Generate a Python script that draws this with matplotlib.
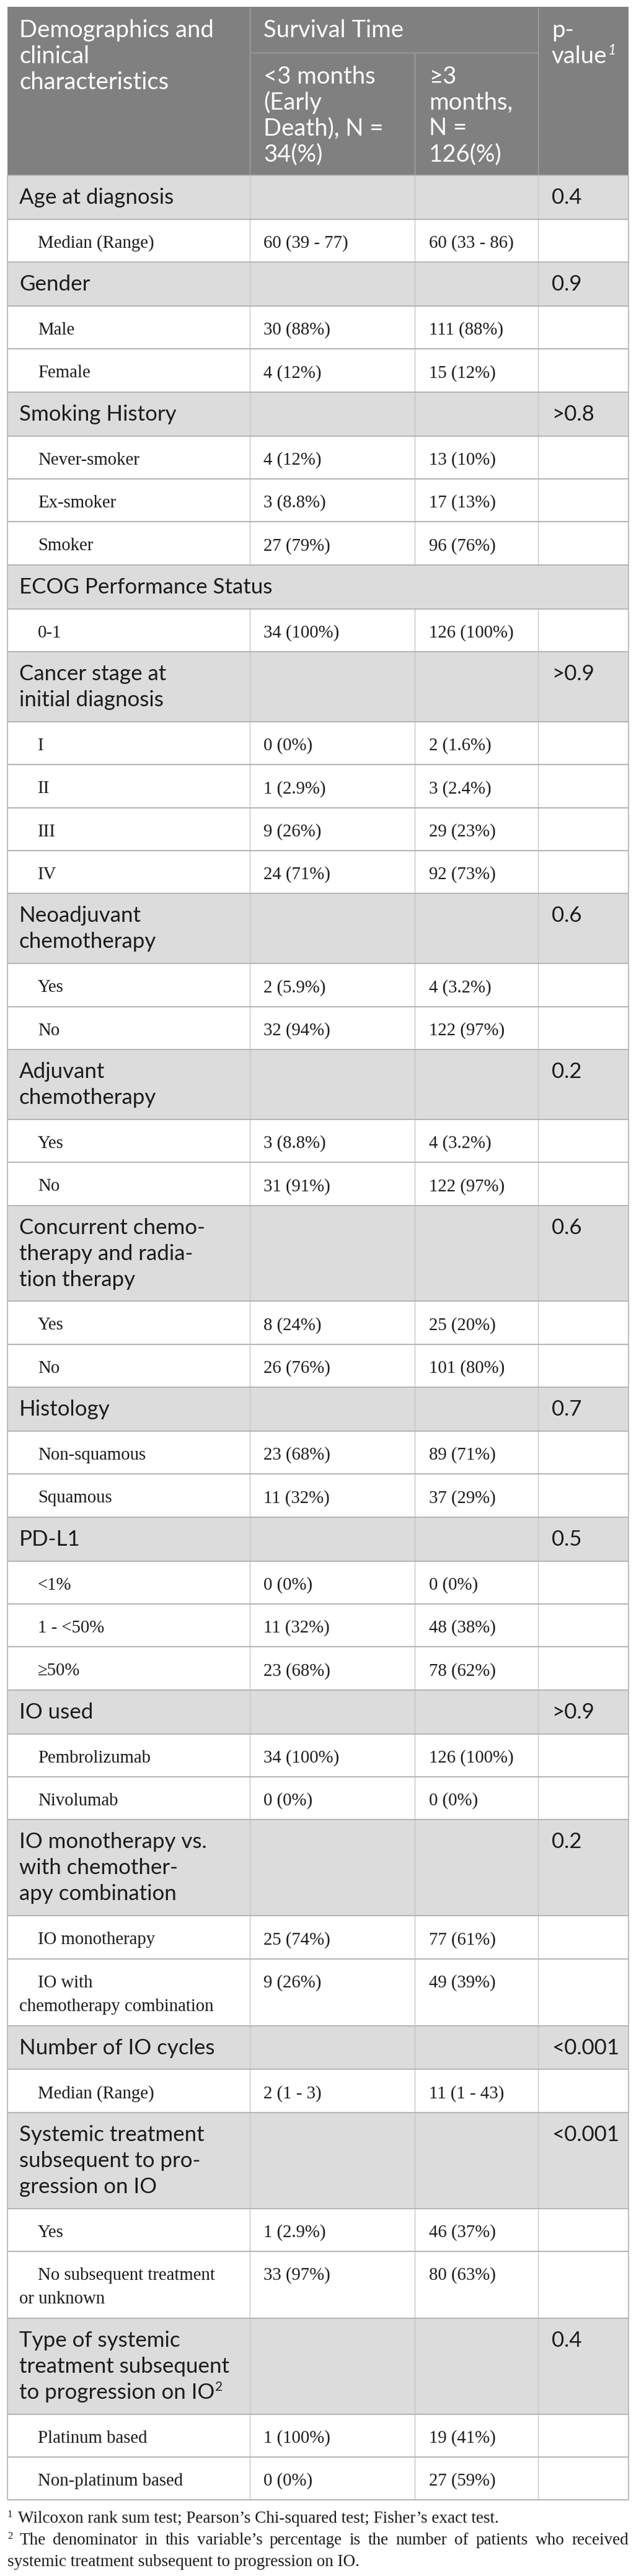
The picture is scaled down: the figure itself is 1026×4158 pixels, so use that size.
import matplotlib
matplotlib.use("Agg")
import matplotlib.pyplot as plt
from matplotlib.patches import Rectangle

# ---------------- data ----------------
header_col1 = ["Demographics and", "clinical", "characteristics"]
header_group = "Survival Time"
header_col2 = ["<3 months", "(Early", "Death), N =", "34(%)"]
header_col3 = ["≥3", "months,", "N =", "126(%)"]
header_p = ["p-", "value"]
header_p_mark = "1"

section_labels = [
    "Age at diagnosis",
    "Gender",
    "Smoking History",
    "ECOG Performance Status",
    "Cancer stage at\ninitial diagnosis",
    "Neoadjuvant\nchemotherapy",
    "Adjuvant\nchemotherapy",
    "Concurrent chemo-\ntherapy and radia-\ntion therapy",
    "Histology",
    "PD-L1",
    "IO used",
    "IO monotherapy vs.\nwith chemother-\napy combination",
    "Number of IO cycles",
    "Systemic treatment\nsubsequent to pro-\ngression on IO",
    "Type of systemic\ntreatment subsequent\nto progression on IO",
]
section_marks = ["", "", "", "", "", "", "", "", "", "", "", "", "", "", "2"]
p_values = ["0.4", "0.9", ">0.8", None, ">0.9", "0.6", "0.2", "0.6", "0.7",
            "0.5", ">0.9", "0.2", "<0.001", "<0.001", "0.4"]

sub_labels = [
    ["Median (Range)"],
    ["Male", "Female"],
    ["Never-smoker", "Ex-smoker", "Smoker"],
    ["0-1"],
    ["I", "II", "III", "IV"],
    ["Yes", "No"],
    ["Yes", "No"],
    ["Yes", "No"],
    ["Non-squamous", "Squamous"],
    ["<1%", "1 - <50%", "≥50%"],
    ["Pembrolizumab", "Nivolumab"],
    ["IO monotherapy", "IO with\nchemotherapy combination"],
    ["Median (Range)"],
    ["Yes", "No subsequent treatment\nor unknown"],
    ["Platinum based", "Non-platinum based"],
]
early_death = [
    ["60 (39 - 77)"],
    ["30 (88%)", "4 (12%)"],
    ["4 (12%)", "3 (8.8%)", "27 (79%)"],
    ["34 (100%)"],
    ["0 (0%)", "1 (2.9%)", "9 (26%)", "24 (71%)"],
    ["2 (5.9%)", "32 (94%)"],
    ["3 (8.8%)", "31 (91%)"],
    ["8 (24%)", "26 (76%)"],
    ["23 (68%)", "11 (32%)"],
    ["0 (0%)", "11 (32%)", "23 (68%)"],
    ["34 (100%)", "0 (0%)"],
    ["25 (74%)", "9 (26%)"],
    ["2 (1 - 3)"],
    ["1 (2.9%)", "33 (97%)"],
    ["1 (100%)", "0 (0%)"],
]
survivors = [
    ["60 (33 - 86)"],
    ["111 (88%)", "15 (12%)"],
    ["13 (10%)", "17 (13%)", "96 (76%)"],
    ["126 (100%)"],
    ["2 (1.6%)", "3 (2.4%)", "29 (23%)", "92 (73%)"],
    ["4 (3.2%)", "122 (97%)"],
    ["4 (3.2%)", "122 (97%)"],
    ["25 (20%)", "101 (80%)"],
    ["89 (71%)", "37 (29%)"],
    ["0 (0%)", "48 (38%)", "78 (62%)"],
    ["126 (100%)", "0 (0%)"],
    ["77 (61%)", "49 (39%)"],
    ["11 (1 - 43)"],
    ["46 (37%)", "80 (63%)"],
    ["19 (41%)", "27 (59%)"],
]
footnote_marks = ["1", "2"]
footnote1 = "Wilcoxon rank sum test; Pearson’s Chi-squared test; Fisher’s exact test."
footnote2_lines = [
    "The denominator in this variable’s percentage is the number of patients who received",
    "systemic treatment subsequent to progression on IO.",
]

# ---------------- layout / style ----------------
W, H, DPI = 1026, 4158, 100
SANS = ["Lato", "DejaVu Sans"]
SERIF = ["Liberation Serif", "DejaVu Serif"]
HEAD_BG = "#808080"
HEAD_LINE = "#a3a3a3"
SEC_BG = "#dcdcdc"
GRID = "#b4b4b4"
VGRID = "#c6c6c6"
TXT = "#1c1c1c"

X0, X1 = 12, 1014
COLS = [403, 669, 868]
TX = [31, 425, 692, 890]
SUB_INDENT = 61
TOP, SUBHEAD, HEAD_END = 11, 85, 283

fig = plt.figure(figsize=(W / DPI, H / DPI), dpi=DPI)
ax = fig.add_axes([0, 0, 1, 1])
ax.set_xlim(0, W)
ax.set_ylim(H, 0)
ax.axis("off")
renderer = fig.canvas.get_renderer()


def width_px(s, family, size, **kw):
    t = ax.text(0, 0, s, fontfamily=family, fontsize=size, **kw)
    w = t.get_window_extent(renderer).width
    t.remove()
    return w


def fit(s, family, target, **kw):
    return 20.0 * target / width_px(s, family, 20.0, **kw)


FS_SANS = fit("Age at diagnosis", SANS, 249)
FS_HEAD = fit("Survival Time", SANS, 227)
FS_SERIF = fit("Median (Range)", SERIF, 188)
FS_FOOT = fit(footnote1, SERIF, 777)


def txt(x, y, s, family, size, color=TXT, **kw):
    return ax.text(x, y, s, fontfamily=family, fontsize=size, color=color,
                   ha="left", va="baseline", **kw)


def hline(y, xa, xb, color, lw):
    ax.plot([xa, xb], [y, y], color=color, lw=lw, solid_capstyle="butt")


def vline(x, ya, yb, color, lw):
    ax.plot([x, x], [ya, yb], color=color, lw=lw, solid_capstyle="butt")


# ---------------- header ----------------
ax.add_patch(Rectangle((X0, TOP), X1 - X0, HEAD_END - TOP, color=HEAD_BG, lw=0))
hline(SUBHEAD, COLS[0], COLS[2], HEAD_LINE, 1.0)
vline(COLS[0], TOP, HEAD_END, HEAD_LINE, 1.0)
vline(COLS[1], SUBHEAD, HEAD_END, HEAD_LINE, 1.0)
vline(COLS[2], TOP, HEAD_END, HEAD_LINE, 1.0)
LH = 42
for i, s in enumerate(header_col1):
    txt(TX[0], 60 + i * LH, s, SANS, FS_HEAD, "white")
txt(TX[1], 60, header_group, SANS, FS_HEAD, "white")
for i, s in enumerate(header_col2):
    txt(TX[1], 135 + i * 41.7, s, SANS, FS_HEAD, "white")
for i, s in enumerate(header_col3):
    txt(TX[2], 135 + i * 41.7, s, SANS, FS_HEAD, "white")
for i, s in enumerate(header_p):
    txt(TX[3], 60 + i * LH, s, SANS, FS_HEAD, "white")
wv = width_px(header_p[-1], SANS, FS_HEAD)
txt(TX[3] + wv + 1, 60 + LH - 14, header_p_mark, SANS, FS_HEAD * 0.6, "white",
    style="italic")

# ---------------- body ----------------
SEC_H, SEC_LH = 70.8, 42
SUB_H, SUB_LH = 69.4, 38.5
y = HEAD_END
for k, lab in enumerate(section_labels):
    lines = lab.split("\n")
    h = SEC_H + SEC_LH * (len(lines) - 1)
    ax.add_patch(Rectangle((X0, y), X1 - X0, h, color=SEC_BG, lw=0))
    for i, s in enumerate(lines):
        t = txt(TX[0], y + 46 + i * SEC_LH, s, SANS, FS_SANS)
    if section_marks[k]:
        wl = width_px(lines[-1], SANS, FS_SANS)
        txt(TX[0] + wl + 1, y + 46 + (len(lines) - 1) * SEC_LH - 13,
            section_marks[k], SANS, FS_SANS * 0.6)
    if p_values[k] is not None:
        txt(TX[3], y + 46, p_values[k], SANS, FS_SANS)
        for c in COLS:
            vline(c, y, y + h, VGRID, 1.0)
    hline(y, X0, X1, GRID, 1.4)
    y += h
    for j, sl in enumerate(sub_labels[k]):
        slines = sl.split("\n")
        h = SUB_H + SUB_LH * (len(slines) - 1)
        for i, s in enumerate(slines):
            txt(SUB_INDENT if i == 0 else TX[0], y + 46 + i * SUB_LH, s, SERIF, FS_SERIF)
        txt(TX[1], y + 46, early_death[k][j], SERIF, FS_SERIF)
        txt(TX[2], y + 46, survivors[k][j], SERIF, FS_SERIF)
        for c in COLS:
            vline(c, y, y + h, VGRID, 1.0)
        hline(y, X0, X1, GRID, 1.4)
        y += h
TABLE_END = y
hline(TABLE_END, X0, X1, GRID, 1.4)
vline(X0, HEAD_END, TABLE_END, GRID, 1.2)
vline(X1, HEAD_END, TABLE_END, GRID, 1.2)

# ---------------- footnotes ----------------
FB = TABLE_END + 37
FLH = 35
txt(X0, FB - 9, footnote_marks[0], SERIF, FS_FOOT * 0.62)
txt(29, FB, footnote1, SERIF, FS_FOOT)
txt(X0, FB + FLH - 9, footnote_marks[1], SERIF, FS_FOOT * 0.62)
words = footnote2_lines[0].split(" ")
ws = [width_px(wd, SERIF, FS_FOOT) for wd in words]
start = 31
gap = (X1 - start - sum(ws)) / (len(words) - 1)
xx = start
for wd, wdw in zip(words, ws):
    txt(xx, FB + FLH, wd, SERIF, FS_FOOT)
    xx += wdw + gap
txt(X0, FB + 2 * FLH, footnote2_lines[1], SERIF, FS_FOOT)

fig.savefig("out.png", dpi=DPI, facecolor="white")
